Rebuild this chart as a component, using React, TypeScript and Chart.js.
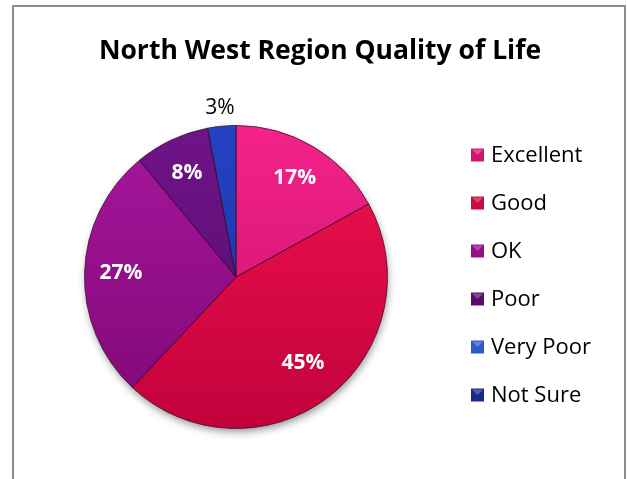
import React, { useEffect, useRef } from "react";
import { Chart, registerables } from "chart.js";

Chart.register(...registerables);

const chartTitle = "North West Region Quality of Life";
const categories = ["Excellent", "Good", "OK", "Poor", "Very Poor", "Not Sure"];
const percentages = [17, 45, 27, 8, 3, 0];
const sliceTopColors = ["#f5228a", "#f2124f", "#a8169f", "#701489", "#2442c4", "#1c2e98"];
const sliceBottomColors = ["#c3106a", "#c2023c", "#7e0874", "#500a6a", "#1a2e9c", "#14207a"];
const legendColors = ["#d2166f", "#cc0a42", "#980c88", "#5c0c70", "#2a5acc", "#1a2a8a"];

const FONT = '"Open Sans", Lato, "DejaVu Sans", sans-serif';

const titlePlugin = {
  id: "titleText",
  afterDraw(chart: any) {
    const ctx = chart.ctx;
    ctx.save();
    ctx.font = `bold 26.5px ${FONT}`;
    ctx.fillStyle = "#000";
    ctx.textAlign = "center";
    ctx.textBaseline = "alphabetic";
    ctx.fillText(chartTitle, 320, 59);
    ctx.restore();
  },
};

const shadowPlugin = {
  id: "pieShadow",
  beforeDatasetsDraw(chart: any) {
    const meta = chart.getDatasetMeta(0);
    const arc = meta.data[0];
    if (!arc) return;
    const { x, y, outerRadius } = arc.getProps(["x", "y", "outerRadius"], true);
    const ctx = chart.ctx;
    ctx.save();
    ctx.shadowColor = "rgba(0,0,0,0.45)";
    ctx.shadowBlur = 9;
    ctx.shadowOffsetX = 1;
    ctx.shadowOffsetY = 4;
    ctx.beginPath();
    ctx.arc(x, y, outerRadius - 1, 0, Math.PI * 2);
    ctx.fillStyle = "#b00040";
    ctx.fill();
    ctx.restore();
  },
};

const labelPlugin = {
  id: "sliceLabels",
  afterDatasetsDraw(chart: any) {
    const ctx = chart.ctx;
    const meta = chart.getDatasetMeta(0);
    const values = chart.data.datasets[0].data as number[];
    meta.data.forEach((arc: any, i: number) => {
      const v = values[i];
      if (!v) return;
      const { x, y, startAngle, endAngle, outerRadius } = arc.getProps(
        ["x", "y", "startAngle", "endAngle", "outerRadius"],
        true
      );
      const mid = (startAngle + endAngle) / 2;
      const inside = v >= 5;
      const f = inside ? (v > 30 ? 0.72 : 0.76) : 1.12;
      const lx = x + Math.cos(mid) * outerRadius * f;
      const ly = y + Math.sin(mid) * outerRadius * f;
      ctx.save();
      ctx.font = inside ? `bold 21px ${FONT}` : `21px ${FONT}`;
      ctx.fillStyle = inside ? "#ffffff" : "#000000";
      ctx.textAlign = "center";
      ctx.textBaseline = "middle";
      ctx.fillText(`${v}%`, lx, ly);
      ctx.restore();
    });
  },
};

const legendPlugin = {
  id: "sideLegend",
  afterDraw(chart: any) {
    const ctx = chart.ctx;
    const labels = chart.data.labels as string[];
    const x0 = 471;
    const y0 = 155;
    const step = 48;
    const box = 13;
    labels.forEach((lab, i) => {
      const cy = y0 + i * step;
      ctx.save();
      ctx.fillStyle = legendColors[i];
      ctx.fillRect(x0, cy - box / 2, box, box);
      ctx.fillStyle = "rgba(255,255,255,0.25)";
      ctx.beginPath();
      ctx.moveTo(x0 + 1, cy - box / 2 + 1);
      ctx.lineTo(x0 + box - 1, cy - box / 2 + 1);
      ctx.lineTo(x0 + box / 2, cy);
      ctx.closePath();
      ctx.fill();
      ctx.font = `22px ${FONT}`;
      ctx.fillStyle = "#000";
      ctx.textAlign = "left";
      ctx.textBaseline = "alphabetic";
      ctx.fillText(lab, x0 + box + 7, cy + 7);
      ctx.restore();
    });
  },
};

export default function App() {
  const canvasRef = useRef<HTMLCanvasElement | null>(null);

  useEffect(() => {
    const canvas = canvasRef.current;
    if (!canvas) return;
    const chart = new Chart(canvas, {
      type: "pie",
      data: {
        labels: categories,
        datasets: [
          {
            data: percentages,
            backgroundColor: (c: any) => {
              const i = c.dataIndex;
              const area = c.chart.chartArea;
              if (!area) return sliceTopColors[i];
              const g = c.chart.ctx.createLinearGradient(0, area.top, 0, area.bottom);
              g.addColorStop(0, sliceTopColors[i]);
              g.addColorStop(1, sliceBottomColors[i]);
              return g;
            },
            borderColor: "rgba(55,10,40,0.75)",
            borderWidth: 1,
          },
        ],
      },
      options: {
        responsive: false,
        animation: false,
        layout: { padding: { left: 84, right: 239, top: 125, bottom: 50 } },
        plugins: {
          legend: { display: false },
          title: { display: false },
          tooltip: { enabled: false },
        },
      },
      plugins: [shadowPlugin, labelPlugin, titlePlugin, legendPlugin],
    });
    return () => chart.destroy();
  }, []);

  return (
    <div
      style={{
        position: "absolute",
        left: 0,
        top: 0,
        width: 627,
        height: 479,
        overflow: "hidden",
        background: "#fff",
      }}
    >
      <div
        style={{
          position: "absolute",
          left: 12,
          top: 5,
          width: 614,
          height: 600,
          boxSizing: "border-box",
          border: "2px solid #8c8c8c",
        }}
      />
      <canvas
        ref={canvasRef}
        width={627}
        height={479}
        style={{ position: "absolute", left: 0, top: 0, width: 627, height: 479 }}
      />
    </div>
  );
}
